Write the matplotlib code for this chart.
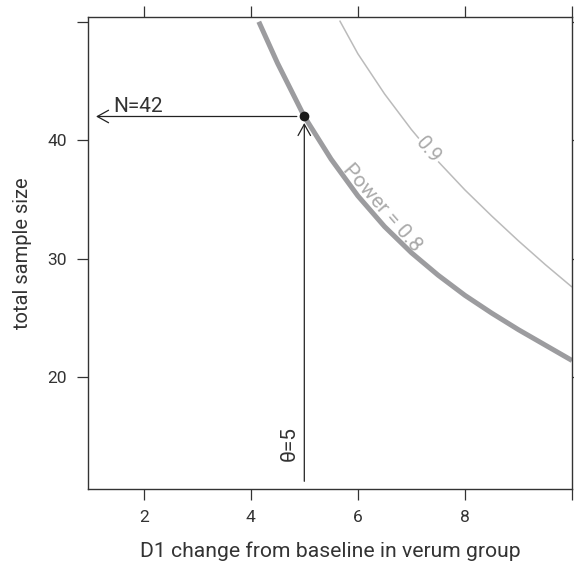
import matplotlib
matplotlib.use("Agg")
import matplotlib.pyplot as plt
import matplotlib.transforms as mtransforms
import numpy as np

plt.rcParams['font.family'] = ['Roboto', 'DejaVu Sans']
plt.rcParams['font.weight'] = 'normal'

# data
theta_08 = [4.15, 4.5, 5.0, 5.5, 6.0, 6.5, 7.0, 7.5, 8.0, 8.5, 9.0, 9.5, 10.0]
n_08 = [50.0, 46.5, 42.0, 38.4, 35.3, 32.7, 30.5, 28.6, 26.9, 25.4, 24.0, 22.7, 21.4]
theta_09 = [5.66, 6.0, 6.5, 7.0, 7.5, 8.0, 8.5, 9.0, 9.5, 10.0]
n_09 = [50.1, 47.3, 43.9, 40.9, 38.2, 35.8, 33.6, 31.5, 29.5, 27.6]
design_theta = 5
design_n = 42
x_ticks = [2, 4, 6, 8, 10]
x_ticklabels = ['2', '4', '6', '8', '']
y_ticks = [20, 30, 40, 50]
y_ticklabels = ['20', '30', '40', '']

W, H = 574, 561
fig = plt.figure(figsize=(W / 100, H / 100), dpi=100)
ax = fig.add_axes([88 / W, 1 - 489 / H, (572 - 88) / W, (489 - 17) / H])
ax.set_xlim(0.96, 10.0)
ax.set_ylim(10.55, 50.4)

frame_col = '#333333'
text_col = '#333333'
for s in ax.spines.values():
    s.set_color(frame_col)
    s.set_linewidth(1.0)

ax.plot(theta_09, n_09, color='#bbbbbb', lw=1.1, solid_capstyle='butt', zorder=2)
ax.plot(theta_08, n_08, color='#9c9c9f', lw=3.6, solid_capstyle='butt', zorder=2)

# design point and arrows
arrow_kw = dict(arrowstyle='->,head_length=0.45,head_width=0.25', color='#222222',
                lw=0.9, shrinkA=0, shrinkB=0, mutation_scale=18)
ax.annotate('', xy=(1.11, design_n), xytext=(4.86, design_n), arrowprops=arrow_kw)
ax.annotate('', xy=(design_theta, 41.45), xytext=(design_theta, 11.2), arrowprops=arrow_kw)
ax.plot([design_theta], [design_n], 'o', color='#1a1a1a', ms=6, zorder=5)

ax.text(1.43, 42.38, 'N=42', ha='left', va='baseline', fontsize=15, color=text_col)
ax.text(4.89, 14.4, 'θ=5', ha='right', va='center', rotation=90, fontsize=15,
        color=text_col)

# contour labels
def angle_at(xs, ys, x0):
    i = np.searchsorted(xs, x0)
    p1 = ax.transData.transform((xs[i - 1], ys[i - 1]))
    p2 = ax.transData.transform((xs[i], ys[i]))
    return np.degrees(np.arctan2(p2[1] - p1[1], p2[0] - p1[0]))

x_lab8 = 6.30
a8 = angle_at(theta_08, n_08, x_lab8)
off = 3.5  # points, perpendicular to the line
tr8 = mtransforms.offset_copy(ax.transData, fig=fig,
                              x=-np.sin(np.radians(a8)) * off,
                              y=np.cos(np.radians(a8)) * off, units='points')
ax.text(x_lab8, np.interp(x_lab8, theta_08, n_08), 'Power = 0.8', transform=tr8,
        rotation=a8, rotation_mode='anchor', ha='center', va='baseline', fontsize=15,
        color='#aaaaaa', zorder=3)
x_lab9 = 7.32
ax.text(x_lab9, np.interp(x_lab9, theta_09, n_09), '0.9',
        rotation=angle_at(theta_09, n_09, x_lab9),
        rotation_mode='anchor', ha='center', va='center', fontsize=14.5, color='#aaaaaa',
        bbox=dict(boxstyle='square,pad=0.05', fc='white', ec='none'), zorder=3)

ax.set_xticks(x_ticks)
ax.set_xticklabels(x_ticklabels)
ax.set_yticks(y_ticks)
ax.set_yticklabels(y_ticklabels)
ax.tick_params(direction='out', length=8, width=0.9, color=frame_col, labelcolor=text_col,
               labelsize=12.5, pad=7, top=True, right=True)

ax.set_xlabel('D1 change from baseline in verum group', fontsize=15.2, color=text_col,
              labelpad=12)
ax.set_ylabel('total sample size', fontsize=14.5, color=text_col, labelpad=11)

fig.savefig('out.png', dpi=100)
